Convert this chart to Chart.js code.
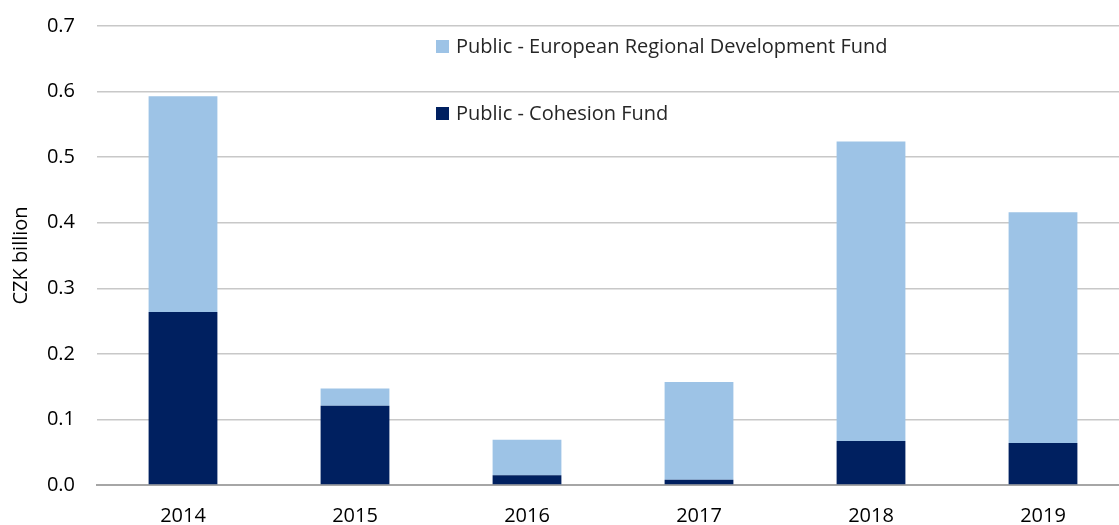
<!DOCTYPE html>
<html>
<head>
<meta charset="utf-8">
<script src="https://cdn.jsdelivr.net/npm/chart.js@4.4.0/dist/chart.umd.min.js"></script>
<style>
  html, body { margin: 0; padding: 0; background: #fff; overflow: hidden; }
  #wrap { width: 1129px; height: 525px; position: relative; }
</style>
</head>
<body>
<div id="wrap"><canvas id="fundChart"></canvas></div>
<script>
// data (CZK billion)
const years = ['2014', '2015', '2016', '2017', '2018', '2019'];
const cohesionFund = [0.264, 0.121, 0.015, 0.008, 0.067, 0.064];
const regionalFund = [0.329, 0.026, 0.054, 0.149, 0.457, 0.352];
const yTicks = [0, 0.1, 0.2, 0.3, 0.4, 0.5, 0.6, 0.7];

const fontFamily = "'Open Sans', 'Noto Sans', sans-serif";

// legend sits inside the plot, one entry per row
const insideLegend = {
  id: 'insideLegend',
  afterDraw(chart) {
    const ctx = chart.ctx;
    const rows = [
      { ds: chart.data.datasets[1], y: 47 },
      { ds: chart.data.datasets[0], y: 114 }
    ];
    ctx.save();
    ctx.font = '20px ' + fontFamily;
    ctx.textBaseline = 'middle';
    for (let i = 0; i < rows.length; i++) {
      ctx.fillStyle = rows[i].ds.backgroundColor;
      ctx.fillRect(436, rows[i].y - 7, 13, 13);
      ctx.fillStyle = '#262626';
      ctx.fillText(rows[i].ds.label, 456, rows[i].y);
    }
    ctx.restore();
  }
};

new Chart(document.getElementById('fundChart'), {
  type: 'bar',
  data: {
    labels: years,
    datasets: [
      {
        label: 'Public - Cohesion Fund',
        data: cohesionFund,
        backgroundColor: '#002060',
        borderWidth: 0
      },
      {
        label: 'Public - European Regional Development Fund',
        data: regionalFund,
        backgroundColor: '#9dc3e6',
        borderWidth: 0
      }
    ]
  },
  options: {
    responsive: true,
    maintainAspectRatio: false,
    animation: false,
    layout: { padding: { top: 26, left: 0, right: 0, bottom: 0 } },
    datasets: {
      bar: { barPercentage: 0.4, categoryPercentage: 1.0 }
    },
    scales: {
      x: {
        stacked: true,
        grid: { display: false },
        border: { display: true, color: '#a6a6a6', width: 2 },
        ticks: {
          color: '#000',
          font: { family: fontFamily, size: 20 },
          padding: 11
        },
        afterFit(scale) { scale.height = 40; }
      },
      y: {
        stacked: true,
        min: 0,
        max: 0.7,
        afterBuildTicks(scale) {
          scale.ticks = yTicks.map(v => ({ value: v }));
        },
        grid: { color: '#c8c8c8', lineWidth: 1.5, drawTicks: false },
        border: { display: false },
        ticks: {
          color: '#000',
          font: { family: fontFamily, size: 20 },
          padding: 22,
          callback: v => Number(v).toFixed(1)
        },
        title: {
          display: true,
          text: 'CZK billion',
          color: '#000',
          font: { family: fontFamily, size: 20 },
          padding: { top: 9, bottom: 0 }
        },
        afterFit(scale) {
          scale.width = 97;
          scale.paddingTop = 0;
          scale.paddingBottom = 0;
        }
      }
    },
    plugins: {
      legend: { display: false },
      tooltip: { enabled: false }
    }
  },
  plugins: [insideLegend]
});
</script>
</body>
</html>
